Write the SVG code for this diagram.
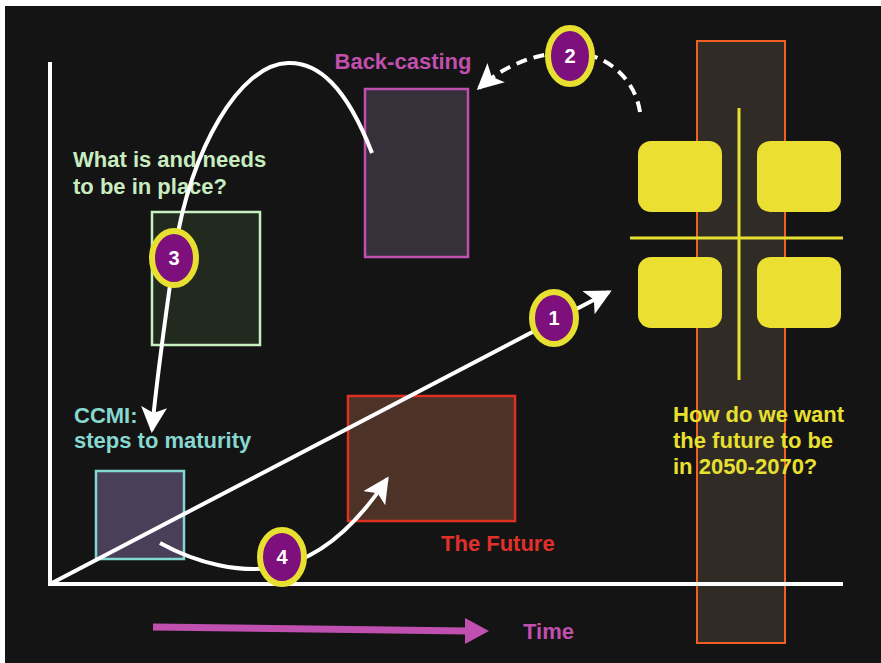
<svg xmlns="http://www.w3.org/2000/svg" width="881" height="663" viewBox="0 0 881 663">
<style>
  text { font-family: "Liberation Sans", Arial, sans-serif; font-weight: bold; font-size: 22px; }
  .num { fill: #ffffff; font-size: 20px; text-anchor: middle; }
  .badge { fill: #7e107e; stroke: #e8e030; stroke-width: 6; }
  .conn { fill: none; stroke: #ffffff; stroke-width: 4; }
  .ybox { fill: #ebe031; }
</style>
<defs>
  <marker id="ah" markerUnits="userSpaceOnUse" markerWidth="30" markerHeight="30" refX="23" refY="13" orient="auto">
    <path d="M0,0 L26,13 L0,26 L6,13 Z" fill="#ffffff"/>
  </marker>
</defs>
<rect x="0" y="0" width="881" height="663" fill="#ffffff"/>
<rect x="5" y="6" width="876" height="657" fill="#141414"/>

<g id="future-band">
  <rect x="697" y="41" width="88" height="602" fill="#302c25" stroke="#f06020" stroke-width="2"/>
</g>

<g id="axes">
  <line x1="50" y1="62" x2="50" y2="586" stroke="#ffffff" stroke-width="4"/>
  <line x1="48" y1="584" x2="843" y2="584" stroke="#ffffff" stroke-width="4"/>
</g>

<g id="backcasting">
  <rect x="365" y="89" width="103" height="168" fill="#35303a" stroke="#c050b0" stroke-width="2.5"/>
  <text x="403" y="69" fill="#c04fae" text-anchor="middle">Back-casting</text>
</g>

<g id="in-place">
  <rect x="152" y="212" width="108" height="133" fill="#222a20" stroke="#c8efc0" stroke-width="2.5"/>
  <text x="73" y="167" fill="#c8ecc0">What is and needs</text>
  <text x="73" y="194" fill="#c8ecc0">to be in place?</text>
</g>

<g id="ccmi">
  <rect x="96" y="471" width="88" height="88" fill="#4a3f58" stroke="#80d8d0" stroke-width="2.5"/>
  <text x="74" y="423" fill="#86d8d0">CCMI:</text>
  <text x="74" y="448" fill="#86d8d0">steps to maturity</text>
</g>

<g id="the-future">
  <rect x="348" y="396" width="167" height="125" fill="#4d3228" stroke="#e03020" stroke-width="2.5"/>
  <text x="441" y="551" fill="#e0302a">The Future</text>
</g>

<g id="scenarios">
  <rect class="ybox" x="638" y="141" width="84" height="71" rx="13"/>
  <rect class="ybox" x="757" y="141" width="84" height="71" rx="13"/>
  <rect class="ybox" x="638" y="257" width="84" height="71" rx="13"/>
  <rect class="ybox" x="757" y="257" width="84" height="71" rx="13"/>
  <line x1="739" y1="108" x2="739" y2="380" stroke="#e8e030" stroke-width="3"/>
  <line x1="630" y1="238" x2="843" y2="238" stroke="#e8e030" stroke-width="3"/>
  <text x="673" y="422" fill="#e8e030">How do we want</text>
  <text x="673" y="448" fill="#e8e030">the future to be</text>
  <text x="673" y="474" fill="#e8e030">in 2050-2070?</text>
</g>

<g id="connectors">
  <path class="conn" d="M52,583 L609,292" marker-end="url(#ah)"/>
  <path class="conn" d="M640,112 C636,84 614,60 585,54 C548,48 508,62 479,88" stroke-dasharray="11,7" marker-end="url(#ah)"/>
  <path class="conn" d="M372,153 C346,86 318,62 288,63 C240,64 190,150 175,250 C165,320 157,375 152,430" marker-end="url(#ah)"/>
  <path class="conn" d="M160,543 C200,565 240,572 272,568 C322,560 360,520 387,479" marker-end="url(#ah)"/>
</g>

<g id="time">
  <path d="M153,627 L467,631" stroke="#c050b0" stroke-width="7" fill="none"/>
  <path d="M465,618 L489,631 L465,644 Z" fill="#c050b0"/>
  <text x="523" y="639" fill="#c04fae">Time</text>
</g>

<g id="badge-1"><ellipse class="badge" cx="554" cy="318" rx="22" ry="26"/><text class="num" x="554" y="325">1</text></g>
<g id="badge-2"><ellipse class="badge" cx="570" cy="56" rx="22" ry="28"/><text class="num" x="570" y="63">2</text></g>
<g id="badge-3"><ellipse class="badge" cx="174" cy="258" rx="22" ry="27"/><text class="num" x="174" y="265">3</text></g>
<g id="badge-4"><ellipse class="badge" cx="282" cy="557" rx="22" ry="27"/><text class="num" x="282" y="564">4</text></g>
</svg>
